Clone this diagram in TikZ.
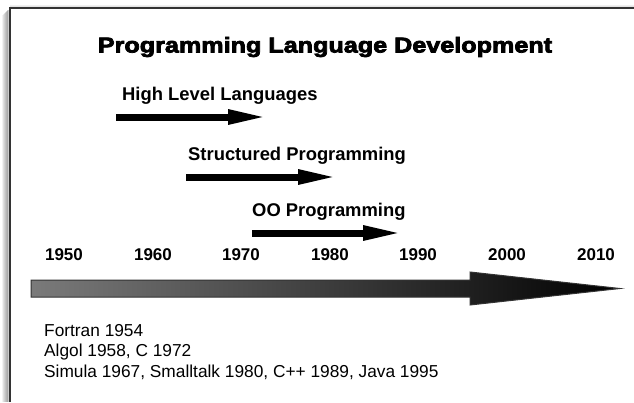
\documentclass[tikz,border=0pt]{standalone}
\usepackage{fontspec}
\setmainfont{Liberation Sans}
\newfontfamily\heavy{Liberation Sans Bold}[FakeStretch=1.17,FakeBold=3.5]
\usetikzlibrary{arrows.meta}
\tikzset{
  yearlbl/.style={font=\bfseries\fontsize{17}{20}\selectfont, anchor=base, inner sep=0pt},
  eralbl/.style={font=\bfseries\fontsize{18.4}{22}\selectfont, anchor=base west, inner sep=0pt},
  eraarrow/.style={line width=7pt, -{Triangle[length=40pt,width=13.5pt]}, shorten >=0pt},
  langlbl/.style={font=\fontsize{17.3}{20.5}\selectfont, anchor=base west, inner sep=0pt},
}
\begin{document}
\begin{tikzpicture}[x=1pt,y=-1pt]
\useasboundingbox (0,0) rectangle (634,402);
% frame with soft shadow
\foreach \o/\op in {7/0.05,6/0.08,5/0.11,4/0.14,3/0.17,2/0.2}{
  \draw[line width=1.2pt, black, opacity=\op] (10-\o,8+\o) -- (10-\o,402);
}
\foreach \o/\op in {3/0.06,2/0.1,1/0.15}{
  \draw[line width=1pt, black, opacity=\op] (10,8-\o) -- (634,8-\o);
}
\draw[line width=1.6pt, black!80] (10,402) -- (10,8) -- (634,8);

% title
\node[font=\heavy\fontsize{21.5}{25}\selectfont, anchor=base, inner sep=0pt] (title) at (325,52.5) {Programming Language Development};

% eras
\node[eralbl] (hll) at (122,100) {High Level Languages};
\coordinate (hllA) at (116,117);
\coordinate (hllB) at (268,117);
\draw[eraarrow] (hllA) -- (hllB);

\node[eralbl] (sp) at (188,160) {Structured Programming};
\coordinate (spA) at (186,177);
\coordinate (spB) at (338,177);
\draw[eraarrow] (spA) -- (spB);

\node[eralbl] (oo) at (252,216) {OO Programming};
\coordinate (ooA) at (252,233);
\coordinate (ooB) at (403,233);
\draw[eraarrow] (ooA) -- (ooB);

% years
\node[yearlbl] (y1950) at (64,260) {1950};
\node[yearlbl] (y1960) at (153,260) {1960};
\node[yearlbl] (y1970) at (241,260) {1970};
\node[yearlbl] (y1980) at (330,260) {1980};
\node[yearlbl] (y1990) at (418,260) {1990};
\node[yearlbl] (y2000) at (507,260) {2000};
\node[yearlbl] (y2010) at (596,260) {2010};

% big timeline arrow
\shade[left color=black!52, right color=black]
  (31,280) -- (470,280) -- (470,272) -- (620,288.5) -- (470,305) -- (470,297) -- (31,297) -- cycle;
\draw[line width=1pt, black!80, line join=miter]
  (31,280) -- (470,280) -- (470,272) -- (620,288.5) -- (470,305) -- (470,297) -- (31,297) -- cycle;

% languages
\node[langlbl] (l1) at (44,336) {Fortran 1954};
\node[langlbl] (l2) at (44,356.5) {Algol 1958, C 1972};
\node[langlbl] (l3) at (44,377) {Simula 1967, Smalltalk 1980, C++ 1989, Java 1995};
\end{tikzpicture}
\end{document}
